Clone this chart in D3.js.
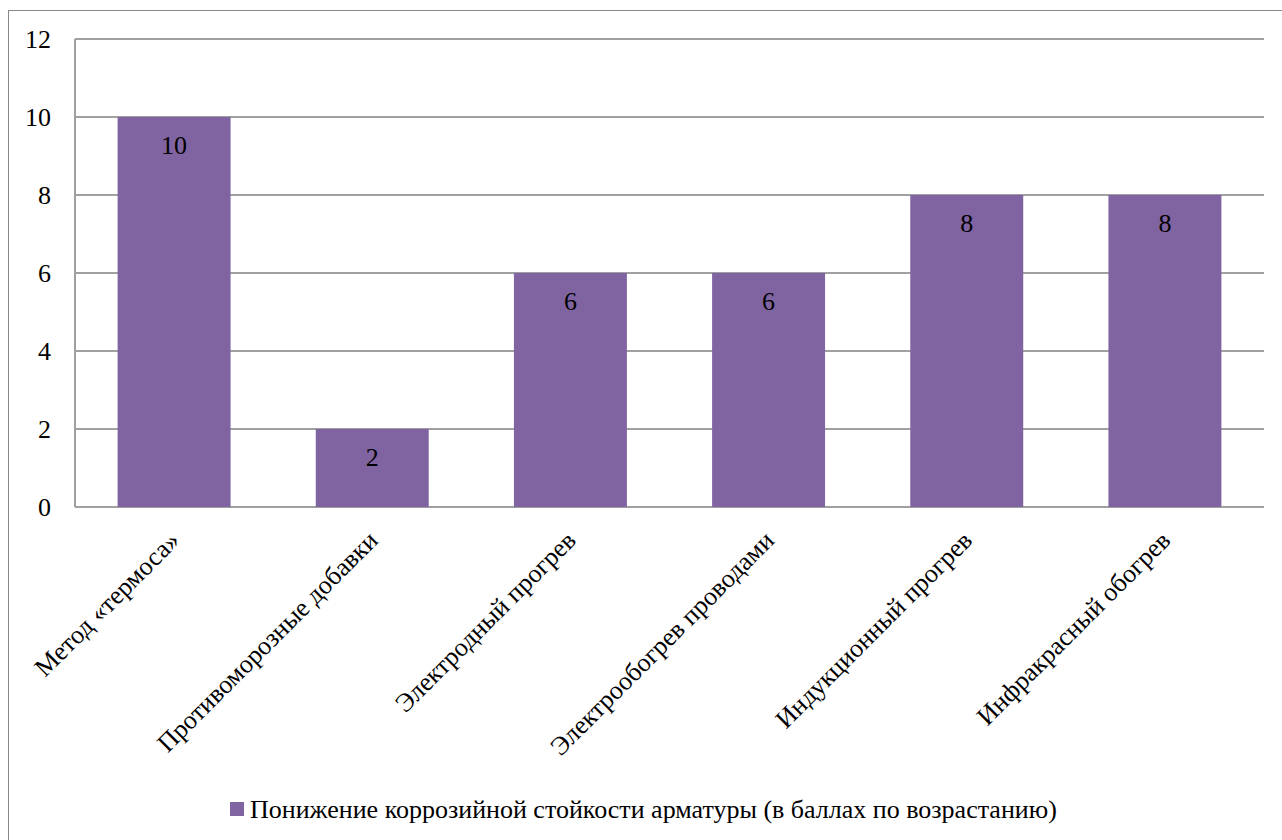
<!DOCTYPE html>
<html><head><meta charset="utf-8">
<script src="https://cdn.jsdelivr.net/npm/d3@7"></script>
<style>body{margin:0;background:#fff;font-family:'Liberation Serif','Times New Roman',Tinos,serif}svg{display:block}</style>
</head><body>
<svg id="c" width="1282" height="840" style="font-family:'Liberation Serif','Times New Roman',Tinos,serif"></svg>
<script>
const categories = ["Метод «термоса»","Противоморозные добавки","Электродный прогрев","Электрообогрев  проводами","Индукционный прогрев","Инфракрасный обогрев"];
const values = [10, 2, 6, 6, 8, 8];
const yTicks = [0, 2, 4, 6, 8, 10, 12];
const seriesName = "Понижение коррозийной стойкости арматуры (в баллах по возрастанию)";

const svg = d3.select("#c");
const barColor = "#8064A2";
const serifFamily = "'Liberation Serif','Times New Roman',Tinos,serif";
const labelSize = "26px";

function styleText(sel) {
  return sel.style("font-family", serifFamily).style("font-size", labelSize).attr("fill", "#000");
}

svg.append("rect").attr("x",8.5).attr("y",10.5).attr("width",1300).attr("height",900)
  .attr("fill","#fff").attr("stroke","#888").attr("stroke-width",1);

const L=75, R=1264, T=39, B=507;
const x = d3.scaleBand().domain(categories).range([L,R]).paddingInner(0.43).paddingOuter(0.215);
const y = d3.scaleLinear().domain([0,12]).range([B,T]);

const g = svg.append("g");
g.selectAll("line.grid").data(yTicks).join("line").attr("class","grid")
  .attr("x1",L).attr("x2",R).attr("y1",d=>y(d)).attr("y2",d=>y(d))
  .attr("stroke","#a0a0a0").attr("stroke-width",2);
g.append("line").attr("x1",L).attr("x2",L).attr("y1",T).attr("y2",B).attr("stroke","#a0a0a0").attr("stroke-width",2);

const yAxis = d3.axisLeft(y).tickValues(yTicks).tickSize(0).tickPadding(0);
const ya = svg.append("g").attr("transform",`translate(${L-24},0)`).call(yAxis);
ya.select(".domain").remove();
ya.attr("font-family",serifFamily).attr("font-size",26);
styleText(ya.selectAll("text")).attr("dy","0.33em");

svg.selectAll("rect.bar").data(values).join("rect").attr("class","bar")
  .attr("x",(d,i)=>x(categories[i])).attr("width",x.bandwidth())
  .attr("y",d=>y(d)).attr("height",d=>B-y(d)).attr("fill",barColor);

styleText(svg.selectAll("text.val").data(values).join("text").attr("class","val")
  .attr("x",(d,i)=>x(categories[i])+x.bandwidth()/2).attr("y",d=>y(d)+37)
  .attr("text-anchor","middle"))
  .text(d=>d);

const xAxis = d3.axisBottom(x).tickSize(0).tickPadding(0);
const xa = svg.append("g").attr("transform",`translate(0,${B})`).call(xAxis);
xa.select(".domain").remove();
xa.attr("font-family",serifFamily).attr("font-size",26);
styleText(xa.selectAll("text"))
  .attr("text-anchor","end").attr("dy",0).attr("y",0)
  .attr("transform","translate(7,35) rotate(-45)");

const lg = svg.append("g");
lg.append("rect").attr("x",230).attr("y",802).attr("width",14).attr("height",14).attr("fill",barColor);
styleText(lg.append("text").attr("x",250).attr("y",818)).text(seriesName);
</script>
</body></html>
